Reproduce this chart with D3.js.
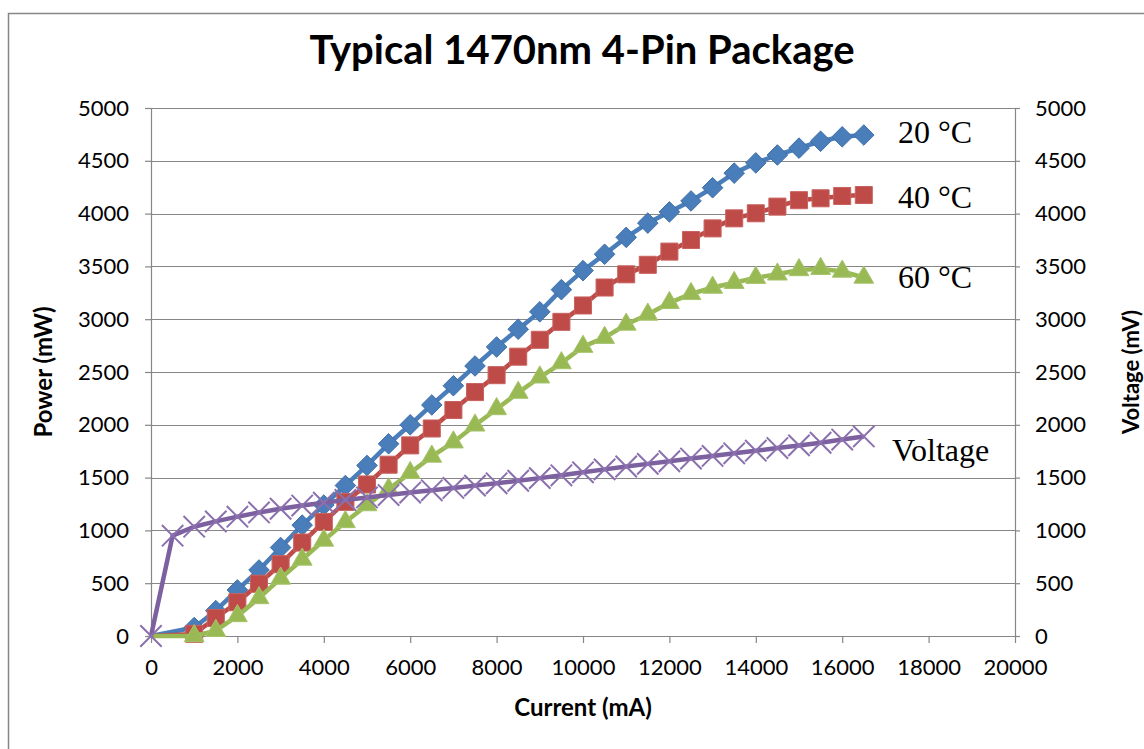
<!DOCTYPE html>
<html>
<head>
<meta charset="utf-8">
<script src="https://cdn.jsdelivr.net/npm/d3@7/dist/d3.min.js"></script>
<style>
  body { margin: 0; background: #fff; }
  svg { display: block; }
</style>
</head>
<body>
<svg id="liv-chart" width="1144" height="749"></svg>
<script>
// current steps (mA) for the voltage curve
const voltCurrent = [0, 500, 1000, 1500, 2000, 2500, 3000, 3500, 4000, 4500, 5000, 5500, 6000, 6500, 7000, 7500,
  8000, 8500, 9000, 9500, 10000, 10500, 11000, 11500, 12000, 12500, 13000, 13500, 14000, 14500, 15000, 15500, 16000, 16500];
const voltage = [0, 950, 1035, 1085, 1130, 1170, 1205, 1235, 1262, 1288, 1312, 1335, 1358, 1380, 1402, 1424,
  1446, 1470, 1495, 1522, 1550, 1578, 1605, 1630, 1655, 1680, 1705, 1730, 1755, 1780, 1805, 1830, 1860, 1890];

// current steps (mA) for the three power curves
const powerCurrent = [0, 1000, 1500, 2000, 2500, 3000, 3500, 4000, 4500, 5000, 5500, 6000, 6500, 7000, 7500,
  8000, 8500, 9000, 9500, 10000, 10500, 11000, 11500, 12000, 12500, 13000, 13500, 14000, 14500, 15000, 15500, 16000, 16500];
const power20 = [0, 80, 240, 436, 625, 838, 1050, 1240, 1425, 1615, 1820, 2000, 2188, 2370, 2557,
  2737, 2905, 3070, 3280, 3460, 3615, 3775, 3910, 4016, 4120, 4245, 4383, 4480, 4555, 4620, 4685, 4727, 4744];
const power40 = [0, 20, 170, 320, 495, 680, 885, 1080, 1270, 1435, 1622, 1805, 1965, 2140, 2310,
  2470, 2645, 2805, 2975, 3130, 3300, 3425, 3515, 3640, 3750, 3860, 3955, 4003, 4066, 4127, 4145, 4167, 4176];
const power60 = [0, 0, 50, 190, 360, 545, 725, 905, 1080, 1240, 1390, 1545, 1700, 1835, 1995,
  2150, 2305, 2450, 2585, 2740, 2825, 2950, 3045, 3155, 3240, 3300, 3345, 3393, 3425, 3466, 3478, 3452, 3395];

const xTicks = [0, 2000, 4000, 6000, 8000, 10000, 12000, 14000, 16000, 18000, 20000];
const yTicks = [0, 500, 1000, 1500, 2000, 2500, 3000, 3500, 4000, 4500, 5000];

const seriesLabels = ["20 °C", "40 °C", "60 °C", "Voltage"];

const svg = d3.select("#liv-chart");
const margin = { top: 108, right: 129, bottom: 113, left: 151 },
      width = +svg.attr("width") - margin.left - margin.right,
      height = +svg.attr("height") - margin.top - margin.bottom;

const axisGrey = "#868686";
const sans = "Lato, 'Open Sans', sans-serif";

// chart frame (only left and top edges fall inside the picture)
svg.append("rect")
    .attr("x", 8.5).attr("y", 13.5)
    .attr("width", 1200).attr("height", 800)
    .attr("fill", "none")
    .attr("stroke", axisGrey)
    .attr("stroke-width", 1.5);

svg.append("text")
    .attr("x", 582)
    .attr("y", 64)
    .attr("text-anchor", "middle")
    .style("font-family", sans)
    .style("font-weight", "bold")
    .style("font-size", "40px")
    .text("Typical 1470nm 4-Pin Package");

const g = svg.append("g").attr("transform", `translate(${margin.left},${margin.top})`);

const x = d3.scaleLinear().domain([0, 20000]).range([0, width]);
const y = d3.scaleLinear().domain([0, 5000]).range([height, 0]);
const y2 = d3.scaleLinear().domain([0, 5000]).range([height, 0]);

// gridlines
g.append("g")
  .selectAll("line")
  .data(yTicks.filter(d => d > 0))
  .join("line")
    .attr("x1", 0).attr("x2", width)
    .attr("y1", d => Math.round(y(d)) + 0.5)
    .attr("y2", d => Math.round(y(d)) + 0.5)
    .attr("stroke", axisGrey)
    .attr("stroke-width", 1);

function styleAxis(sel) {
    sel.select(".domain").attr("stroke", axisGrey).attr("stroke-width", 1.2);
    sel.selectAll(".tick line").attr("stroke", axisGrey).attr("stroke-width", 1.2);
    sel.selectAll("text")
        .attr("fill", "#000")
        .style("font-family", sans)
        .style("font-size", "22px");
}

g.append("g")
    .call(d3.axisLeft(y).tickValues(yTicks).tickFormat(d3.format("d")).tickSize(6).tickSizeOuter(0).tickPadding(16))
    .call(styleAxis);

g.append("g")
    .attr("transform", `translate(${width},0)`)
    .call(d3.axisRight(y2).tickValues(yTicks).tickFormat(d3.format("d")).tickSize(5).tickSizeOuter(0).tickPadding(15))
    .call(styleAxis);

g.append("g")
    .attr("transform", `translate(0,${height})`)
    .call(d3.axisBottom(x).tickValues(xTicks).tickFormat(d3.format("d")).tickSize(7).tickSizeOuter(0).tickPadding(16))
    .call(styleAxis);

// axis titles
g.append("text")
    .attr("x", width / 2)
    .attr("y", height + 80)
    .attr("text-anchor", "middle")
    .style("font-family", sans)
    .style("font-weight", "bold")
    .style("font-size", "24px")
    .text("Current (mA)");

g.append("text")
    .attr("x", -(height / 2))
    .attr("y", -99)
    .attr("text-anchor", "middle")
    .attr("transform", "rotate(-90)")
    .style("font-family", sans)
    .style("font-weight", "bold")
    .style("font-size", "24px")
    .text("Power (mW)");

g.append("text")
    .attr("x", -(height / 2))
    .attr("y", width + 124)
    .attr("text-anchor", "middle")
    .attr("transform", "rotate(-90)")
    .style("font-family", sans)
    .style("font-weight", "bold")
    .style("font-size", "22px")
    .text("Voltage (mV)");

// series
const series = [
    { values: power20, xs: powerCurrent, scale: y, color: "#4A7EBB", edge: "#3F6FA8", marker: "diamond" },
    { values: power40, xs: powerCurrent, scale: y, color: "#BE4B48", edge: "#C8625F", marker: "square" },
    { values: power60, xs: powerCurrent, scale: y, color: "#98B954", edge: "#A6C46B", marker: "triangle" },
    { values: voltage, xs: voltCurrent, scale: y2, color: "#7D60A0", edge: "#8B70AE", marker: "cross" }
];

const symbols = {
    diamond: d3.symbol().type(d3.symbolDiamond2).size(270),
    square: d3.symbol().type(d3.symbolSquare2).size(370),
    triangle: d3.symbol().type(d3.symbolTriangle2).size(280),
    cross: d3.symbol().type(d3.symbolX).size(300)
};

series.forEach(s => {
    const pts = s.values.map((v, i) => [s.xs[i], v]);
    const line = d3.line().x(d => x(d[0])).y(d => s.scale(d[1]));

    g.append("path")
        .datum(pts)
        .attr("fill", "none")
        .attr("stroke", s.color)
        .attr("stroke-width", 4.5)
        .attr("stroke-linejoin", "round")
        .attr("d", line);

    // the origin point carries no marker on the power curves
    const marked = s.marker === "cross" ? pts : pts.filter(d => d[0] > 0);
    const m = g.append("g").selectAll("path")
        .data(marked)
        .join("path")
        .attr("transform", d => `translate(${x(d[0])},${s.scale(d[1])})`)
        .attr("d", symbols[s.marker]);

    if (s.marker === "cross") {
        m.attr("fill", "none").attr("stroke", s.edge).attr("stroke-width", 2);
    } else {
        m.attr("fill", s.color).attr("stroke", s.edge).attr("stroke-width", 1);
    }
});

// series labels at the right end of the plot
const labelPos = [[898, 143], [898, 208], [898, 288], [892, 461]];
svg.append("g")
  .selectAll("text")
  .data(seriesLabels)
  .join("text")
    .attr("x", (d, i) => labelPos[i][0])
    .attr("y", (d, i) => labelPos[i][1])
    .style("font-family", "'Liberation Serif', 'DejaVu Serif', serif")
    .style("font-size", "32px")
    .text(d => d);
</script>
</body>
</html>
